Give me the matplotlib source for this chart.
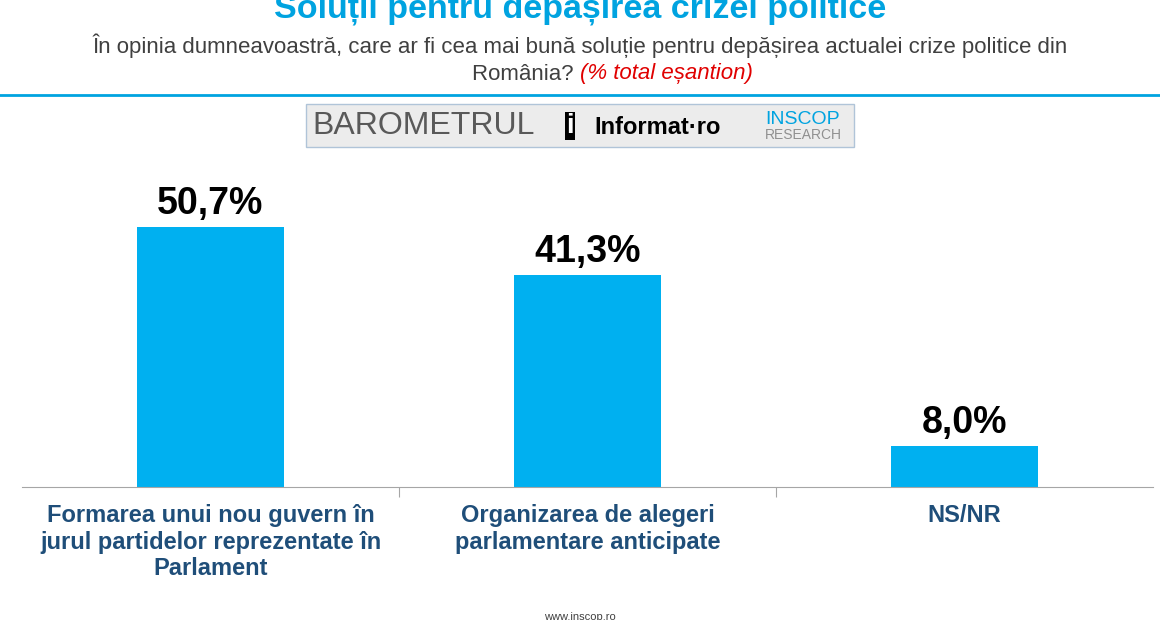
import matplotlib
matplotlib.use('Agg')
import matplotlib.pyplot as plt
from matplotlib.patches import Rectangle
from matplotlib.lines import Line2D

plt.rcParams['font.family'] = ['Liberation Sans', 'DejaVu Sans']

categories = ['Formarea unui nou guvern în\njurul partidelor reprezentate în\nParlament',
              'Organizarea de alegeri\nparlamentare anticipate',
              'NS/NR']
values = [50.7, 41.3, 8.0]
labels = ['50,7%', '41,3%', '8,0%']

blue = '#00b0f0'
navy = '#1f4e79'

fig = plt.figure(figsize=(11.6, 6.2), dpi=100)
ax = fig.add_axes([22/1160, 133/620, 1131/1160, 328/620])
x = list(range(len(values)))
ax.bar(x, values, width=0.39, color=blue)
for xi, v, lab in zip(x, values, labels):
    ax.text(xi, v + 1.0, lab, ha='center', va='bottom', fontsize=27, fontweight='bold')
ax.set_xlim(-0.5, 2.5)
ax.set_ylim(0, 64)
ax.set_yticks([])
for s in ['top', 'right', 'left']:
    ax.spines[s].set_visible(False)
ax.spines['bottom'].set_color('#a6a6a6')
ax.set_xticks([0.5, 1.5])
ax.set_xticklabels([])
ax.tick_params(axis='x', length=7, color='#a6a6a6')
for xi, c in zip(x, categories):
    ax.text(xi, -3.3, c, ha='center', va='top', fontsize=17, fontweight='bold',
            color=navy, linespacing=1.2)

# header
fig.text(0.5, 1 - 9/620, 'Soluții pentru depășirea crizei politice', ha='center', va='center',
         fontsize=24.5, fontweight='bold', color='#00a3e0')
fig.text(0.5, 1 - 46/620, 'În opinia dumneavoastră, care ar fi cea mai bună soluție pentru depășirea actualei crize politice din',
         ha='center', va='center', fontsize=16, color='#404040')
fig.text(0.5, 1 - 74/620, 'România? ', ha='right', va='center', fontsize=16, color='#404040')
fig.text(0.5, 1 - 74/620, '(% total eșantion)', ha='left', va='center', fontsize=16,
         color='#e00000', style='italic')
fig.add_artist(Line2D([0, 1], [1 - 95/620] * 2, color='#00a3e0', lw=2))
fig.add_artist(Rectangle((306/1160, 1 - 147/620), 548/1160, 43/620, facecolor='#ececec',
                         edgecolor='#b0c4d8', lw=1))
fig.text(312/1160, 1 - 126/620, 'BAROMETRUL', ha='left', va='center', fontsize=23, color='#595959')
fig.text(566/1160, 1 - 126/620, 'i', ha='left', va='center', fontsize=20, fontweight='bold',
         color='white', bbox=dict(facecolor='black', edgecolor='none', pad=1))
fig.text(594/1160, 1 - 128/620, 'Informat·ro', ha='left', va='center', fontsize=17,
         fontweight='bold', color='black')
fig.text(765/1160, 1 - 119/620, 'INSCOP', ha='left', va='center', fontsize=14, color='#00a3e0')
fig.text(765/1160, 1 - 135/620, 'RESEARCH', ha='left', va='center', fontsize=10, color='#909090')
fig.text(0.5, 1 - 617/620, 'www.inscop.ro', ha='center', va='center', fontsize=8, color='#404040')

fig.savefig('out.png', dpi=100)
